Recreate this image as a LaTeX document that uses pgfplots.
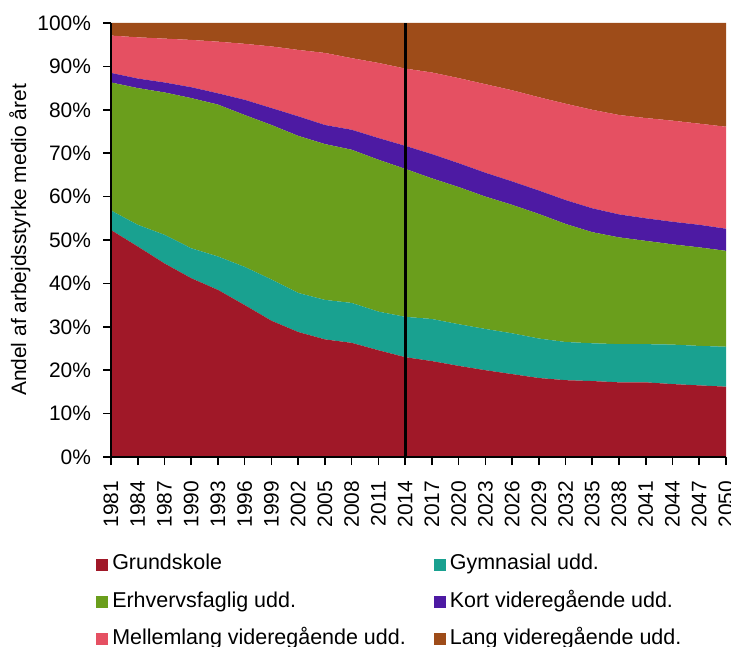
\documentclass[border=0pt]{standalone}
\usepackage{fontspec}
\setmainfont{Liberation Sans}
\usepackage{pgfplots}
\usepackage{pgfplotstable}
\pgfplotsset{compat=1.18}

\definecolor{cgrund}{HTML}{A01828}
\definecolor{cgym}{HTML}{19A190}
\definecolor{cerhv}{HTML}{6A9E1C}
\definecolor{ckort}{HTML}{4D1AA3}
\definecolor{cmell}{HTML}{E55062}
\definecolor{clang}{HTML}{9E4C19}

% shares in percent, read every third year
\pgfplotstableread{
year G    Gy   E    K   M    L
1981 52.3 4.5  29.5 2.2 8.6  2.9
1984 48.5 5.0  31.5 2.2 9.5  3.3
1987 44.6 6.6  32.8 2.3 10.1 3.6
1990 41.2 6.9  34.6 2.5 10.9 3.9
1993 38.5 7.7  35.0 2.6 11.9 4.3
1996 35.0 8.8  35.0 3.5 12.9 4.8
1999 31.4 9.5  35.6 3.9 14.2 5.4
2002 28.8 9.0  36.2 4.5 15.3 6.2
2005 27.1 9.1  35.9 4.4 16.6 6.9
2008 26.3 9.2  35.3 4.6 16.5 8.1
2011 24.6 8.9  35.0 5.0 17.3 9.2
2014 23.0 9.3  34.1 5.3 17.8 10.5
2017 22.1 9.7  32.4 5.6 18.8 11.4
2020 21.0 9.6  31.6 5.5 19.6 12.7
2023 20.0 9.5  30.5 5.5 20.4 14.1
2026 19.1 9.4  29.6 5.4 21.0 15.5
2029 18.2 9.1  28.7 5.4 21.5 17.1
2032 17.7 8.8  27.2 5.5 22.2 18.6
2035 17.5 8.7  25.6 5.5 22.7 20.0
2038 17.2 8.8  24.6 5.3 22.9 21.2
2041 17.2 8.8  23.8 5.2 23.1 21.9
2044 16.8 9.1  23.1 5.2 23.3 22.5
2047 16.5 9.1  22.7 5.2 23.3 23.2
2050 16.2 9.2  22.1 5.1 23.5 23.9
}\shares

\begin{document}
\begin{tikzpicture}
% page frame: 731x646 px at 0.75pt per px, axis box at its south west corner (0,0)
\useasboundingbox (-83.25pt,-141.75pt) rectangle (465pt,342.75pt);
\begin{axis}[
  at={(0pt,0pt)}, anchor=south west,
  width=461.25pt, height=325.5pt, scale only axis,
  xmin=1981, xmax=2050, ymin=0, ymax=100,
  stack plots=y,
  axis on top,
  axis lines*=left,
  axis line style={-, line width=1.5pt},
  tick align=outside,
  major tick length=6pt,
  tick style={black, line width=1.2pt},
  xtick={1981,1984,...,2050},
  ytick={0,10,...,100},
  yticklabel={\pgfmathprintnumber{\tick}\%},
  /pgf/number format/assume math mode=true,
  x tick label style={/pgf/number format/1000 sep={}, rotate=90, anchor=east},
  xticklabel shift=8.5pt,
  yticklabel shift=5.5pt,
  ticklabel style={font=\fontsize{15.7}{18}\selectfont},
  ylabel={Andel af arbejdsstyrke medio året},
  ylabel style={font=\fontsize{15.7}{18}\selectfont, at={(axis description cs:-0.148,0.5)}, anchor=center},
  legend columns=2,
  legend cell align=left,
  legend image code/.code={\fill[#1] (0pt,-4.5pt) rectangle (9pt,4.5pt);},
  legend style={draw=none, fill=none, at={(axis description cs:-0.0244,-0.2258)}, anchor=north west,
    font=\fontsize{16.1}{18}\selectfont, inner sep=0pt, column sep=3pt, row sep=14pt,
    nodes={inner sep=0pt, text height=11pt, text depth=3pt},
    /tikz/every even column/.append style={column sep=21pt}},
]
\addplot[fill=cgrund, draw=none] table[x=year, y=G] {\shares} \closedcycle;
\addlegendentry{Grundskole}
\addplot[fill=cgym, draw=none] table[x=year, y=Gy] {\shares} \closedcycle;
\addlegendentry{Gymnasial udd.}
\addplot[fill=cerhv, draw=none] table[x=year, y=E] {\shares} \closedcycle;
\addlegendentry{Erhvervsfaglig udd.}
\addplot[fill=ckort, draw=none] table[x=year, y=K] {\shares} \closedcycle;
\addlegendentry{Kort videregående udd.}
\addplot[fill=cmell, draw=none] table[x=year, y=M] {\shares} \closedcycle;
\addlegendentry{Mellemlang videregående udd.}
\addplot[fill=clang, draw=none] table[x=year, y=L] {\shares} \closedcycle;
\addlegendentry{Lang videregående udd.}
\coordinate (lineb) at (axis cs:2014,0);
\coordinate (linet) at (axis cs:2014,100);
\end{axis}
\draw[black, line width=2.2pt] (lineb) -- (linet);
\end{tikzpicture}
\end{document}
